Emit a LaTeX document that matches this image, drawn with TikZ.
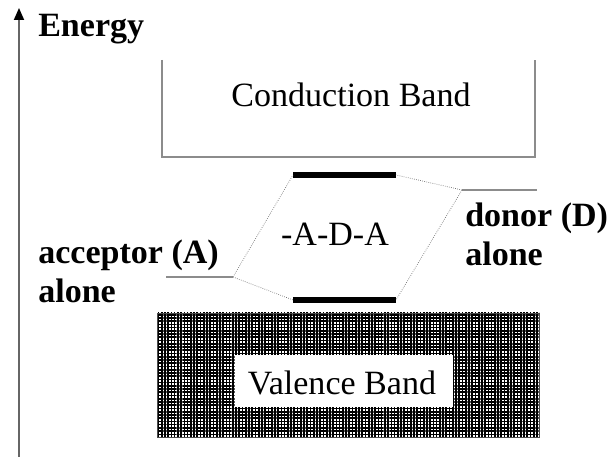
\documentclass[tikz,border=0pt]{standalone}
\usepackage{fontspec}
\setmainfont{Liberation Serif}
\usetikzlibrary{arrows.meta,patterns.meta}

\tikzset{
  band line/.style={draw=black!45, line width=1pt},
  single level/.style={draw=black!45, line width=1.2pt},
  pair level/.style={draw=black, line width=3.6pt},
  link line/.style={draw=black!55, line width=0.5pt, densely dotted},
  plain label/.style={font=\fontsize{24.2}{28}\selectfont, inner sep=0pt},
  bold label/.style={font=\fontsize{24.2}{28}\selectfont\bfseries, inner sep=0pt, align=left},
}

\begin{document}
\begin{tikzpicture}[x=0.025cm, y=-0.025cm]
\useasboundingbox (0,0) rectangle (611,457);

% energy axis
\coordinate (axis low) at (19,457);
\coordinate (axis high) at (19,8);
\draw[black!60, line width=1.3pt, -{Triangle[length=0.3cm, width=0.25cm, color=black]}] (axis low) -- (axis high);
\node[bold label, anchor=base west] (energy) at (38,37) {Energy};

% conduction band
\draw[band line] (162,60) -- (162,157) -- (535,157) -- (535,60);
\node[plain label, anchor=base] (conduction) at (351,107) {Conduction Band};

% valence band
\fill[white] (157,313) rectangle (539,437);
\fill[pattern={Hatch[distance=2.3pt, line width=1.2pt]}, pattern color=black] (157,313) rectangle (539,437);
\draw[black!70, line width=0.6pt] (157,313) rectangle (539,437);
\fill[white] (235,355) rectangle (453,407);
\node[plain label, anchor=base] (valence) at (342,395) {Valence Band};

% levels
\coordinate (acc w) at (166,277);
\coordinate (acc e) at (233,277);
\coordinate (don w) at (462,190);
\coordinate (don e) at (537,190);
\coordinate (upper w) at (293,175);
\coordinate (upper e) at (396,175);
\coordinate (lower w) at (293,300);
\coordinate (lower e) at (396,300);

\draw[single level] (acc w) -- (acc e);
\draw[single level] (don w) -- (don e);
\draw[pair level] (upper w) -- (upper e);
\draw[pair level] (lower w) -- (lower e);

\draw[link line] (acc e) -- (upper w);
\draw[link line] (acc e) -- (lower w);
\draw[link line] (don w) -- (upper e);
\draw[link line] (don w) -- (lower e);

\node[plain label, anchor=base] (chain) at (335,246) {-A-D-A};
% base anchor sits on the last line
\node[bold label, anchor=base west] (acceptor) at (38,303) {acceptor (A)\\alone};
\node[bold label, anchor=base west] (donor) at (465,266) {donor (D)\\alone};
\end{tikzpicture}
\end{document}
